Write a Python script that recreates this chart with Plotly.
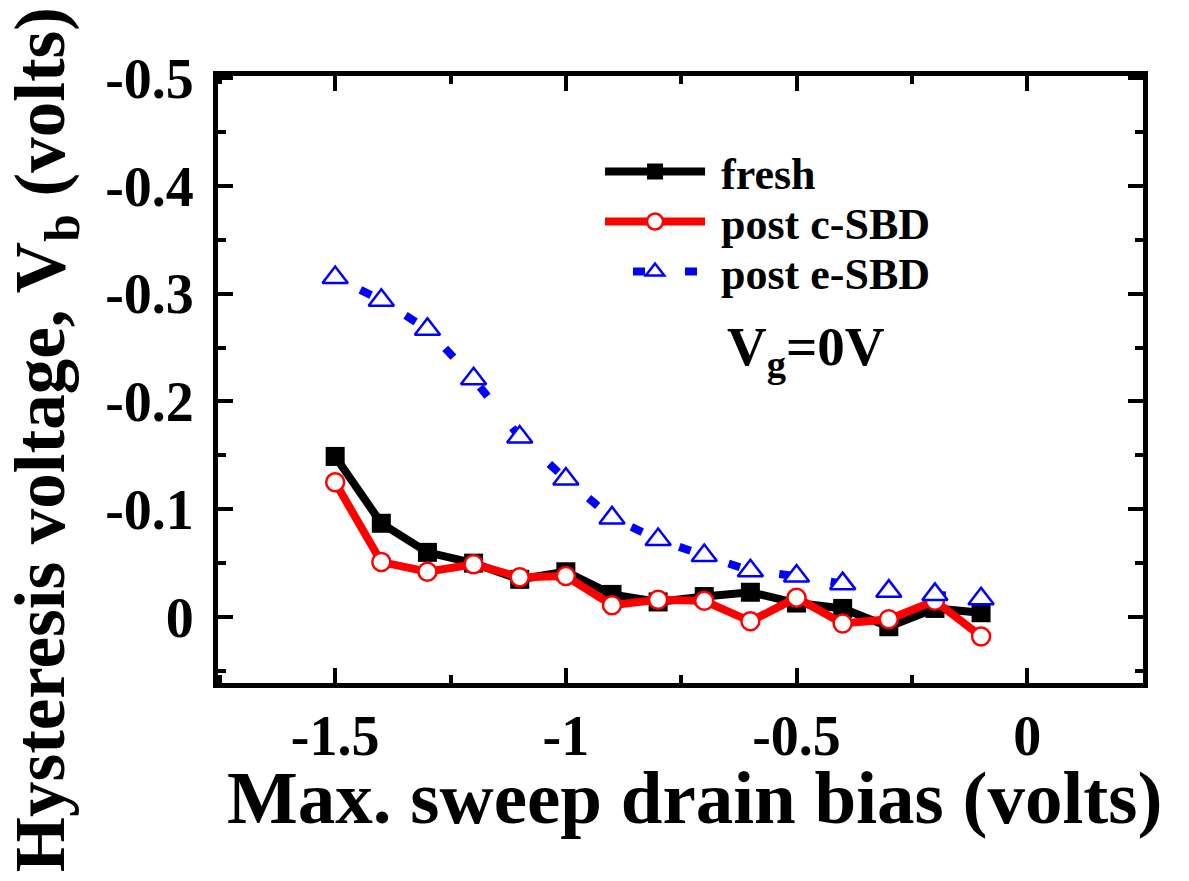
import plotly.graph_objects as go

# ---- data ----
x_bias = [-1.5, -1.4, -1.3, -1.2, -1.1, -1.0, -0.9, -0.8, -0.7, -0.6, -0.5, -0.4, -0.3, -0.2, -0.1]
fresh = [-0.149, -0.087, -0.060, -0.050, -0.035, -0.042, -0.021, -0.014, -0.019, -0.023, -0.013, -0.008, 0.009, -0.008, -0.004]
post_c_sbd = [-0.125, -0.051, -0.042, -0.049, -0.037, -0.038, -0.011, -0.016, -0.015, 0.004, -0.018, 0.006, 0.002, -0.015, 0.018]
post_e_sbd = [-0.315, -0.294, -0.267, -0.221, -0.167, -0.128, -0.092, -0.072, -0.057, -0.043, -0.038, -0.031, -0.024, -0.021, -0.017]

x_tick_vals = [-1.5, -1.0, -0.5, 0.0]
x_tick_text = ["-1.5", "-1", "-0.5", "0"]
y_tick_vals = [-0.5, -0.4, -0.3, -0.2, -0.1, 0.0]
y_tick_text = ["-0.5", "-0.4", "-0.3", "-0.2", "-0.1", "0"]

FONT = "Liberation Serif"

fig = go.Figure()
fig.add_trace(go.Scatter(
    x=x_bias, y=fresh, name="<b>&nbsp;fresh</b>", mode="lines+markers", legend="legend",
    line=dict(color="black", width=8),
    marker=dict(symbol="square", size=19, color="black"),
))
fig.add_trace(go.Scatter(
    x=x_bias, y=post_c_sbd, name="<b>&nbsp;post c-SBD</b>", mode="lines+markers", legend="legend2",
    line=dict(color="#ff0000", width=8),
    marker=dict(symbol="circle", size=18, color="white", line=dict(color="#ff0000", width=2.5)),
))
fig.add_trace(go.Scatter(
    x=x_bias, y=post_e_sbd, name="<b>&nbsp;post e-SBD</b>", mode="lines+markers", legend="legend3",
    line=dict(color="#0000ff", width=8, dash="0px,28px,12px,12px"),
    marker=dict(symbol="triangle-up", size=22, color="white", line=dict(color="#0000ff", width=2.5)),
))

axis_common = dict(
    showline=True, linewidth=5, linecolor="black", mirror="allticks",
    ticks="inside", ticklen=15, tickwidth=4, tickcolor="black",
    showgrid=False, zeroline=False,
    tickfont=dict(family=FONT, size=56, color="black", weight="bold"),
)

fig.update_xaxes(
    range=[-1.754, 0.251], tickmode="array", tickvals=x_tick_vals, ticktext=x_tick_text,
    ticklabelstandoff=0,
    minor=dict(tickmode="linear", tick0=0, dtick=0.25, ticks="inside", ticklen=8, tickwidth=4, tickcolor="black"),
    **axis_common,
)
fig.update_yaxes(
    range=[0.0612, -0.502], tickmode="array", tickvals=y_tick_vals, ticktext=y_tick_text,
    ticklabelstandoff=8,
    minor=dict(tickmode="linear", tick0=0, dtick=0.05, ticks="inside", ticklen=8, tickwidth=4, tickcolor="black"),
    **axis_common,
)

legend_common = dict(
    xanchor="left", yanchor="middle",
    bgcolor="rgba(0,0,0,0)", borderwidth=0,
    font=dict(family=FONT, size=44, color="black"),
    itemwidth=100,
)

fig.update_layout(
    width=1189, height=881,
    margin=dict(l=218, r=46, t=76, b=198),
    paper_bgcolor="white", plot_bgcolor="white",
    font=dict(family=FONT, color="black"),
    showlegend=True,
    legend=dict(x=0.413, y=(683 - 172) / 607, **legend_common),
    legend2=dict(x=0.413, y=(683 - 222) / 607, **legend_common),
    legend3=dict(x=0.413, y=(683 - 272) / 607, **legend_common),
    annotations=[
        dict(text="<b>Max. sweep drain bias (volts)</b>", xref="paper", yref="paper",
             x=0.5146, y=-0.1894, xanchor="center", yanchor="middle", showarrow=False,
             font=dict(family=FONT, size=75, color="black")),
        dict(text="<b>Hysteresis voltage, V<sub>b</sub> (volts)</b>", xref="paper", yref="paper",
             x=-0.187, y=0.400, xanchor="center", yanchor="middle", showarrow=False, textangle=-90,
             font=dict(family=FONT, size=71, color="black")),
        dict(text="<b>V<sub>g</sub>=0V</b>", xref="paper", yref="paper",
             x=(725 - 218) / 925, y=(683 - 350) / 607, xanchor="left", yanchor="middle", showarrow=False,
             font=dict(family=FONT, size=55, color="black")),
    ],
)

fig.write_html("out.html")
